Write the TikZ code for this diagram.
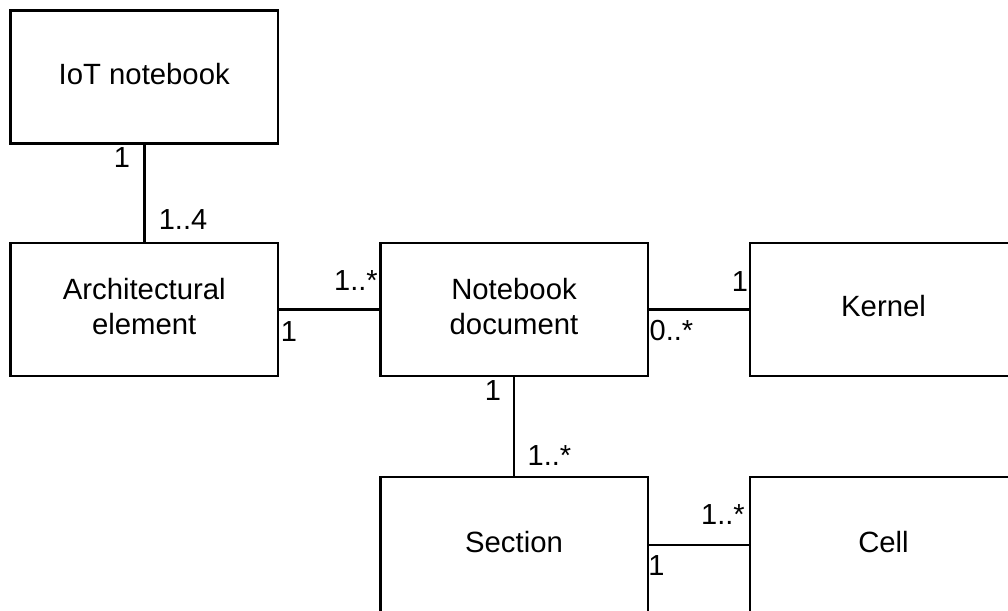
\documentclass[tikz,border=0pt]{standalone}
\usepackage{fontspec}
\setmainfont{Liberation Sans}
\begin{document}
\begin{tikzpicture}[x=1pt,y=-1pt,
  box/.style={draw,line width=2.5pt,minimum width=267.5pt,minimum height=133pt,inner sep=0pt,align=center,font=\fontsize{29.3}{35}\selectfont},
  mult/.style={inner sep=0pt,font=\fontsize{29}{35}\selectfont},
  conn/.style={line width=2.5pt}]
\useasboundingbox (0,0) rectangle (1008,610);
\begin{scope}
\clip (0,0) rectangle (1008,610);
\node[box] (iot) at (144.25,77) {\strut IoT notebook\strut};
\node[box] (arch) at (144.25,309.5) {\strut Architectural\\element\strut};
\node[box] (nb) at (514,309.5) {\strut Notebook\\document\strut};
\node[box] (kernel) at (883.5,309.5) {\strut Kernel\strut};
\node[box,minimum height=136pt] (sec) at (514,545) {\strut Section\strut};
\node[box,minimum height=136pt] (cell) at (883.5,545) {\strut Cell\strut};
\draw[conn] (iot) -- (arch);
\draw[conn] (arch) -- (nb);
\draw[conn] (nb) -- (kernel);
\draw[conn] (nb) -- (sec);
\draw[conn] (sec) -- (cell);
\node[mult] (m1) at (122,158) {1};
\node[mult] (m2) at (183,220) {1..4};
\node[mult] (m3) at (356,281) {1..*};
\node[mult] (m4) at (289,332) {1};
\node[mult] (m5) at (740,282) {1};
\node[mult] (m6) at (671.5,331) {0..*};
\node[mult] (m7) at (493,391) {1};
\node[mult] (m8) at (549.5,456) {1..*};
\node[mult] (m9) at (723,515) {1..*};
\node[mult] (m10) at (656.5,566) {1};
\end{scope}
\end{tikzpicture}
\end{document}
